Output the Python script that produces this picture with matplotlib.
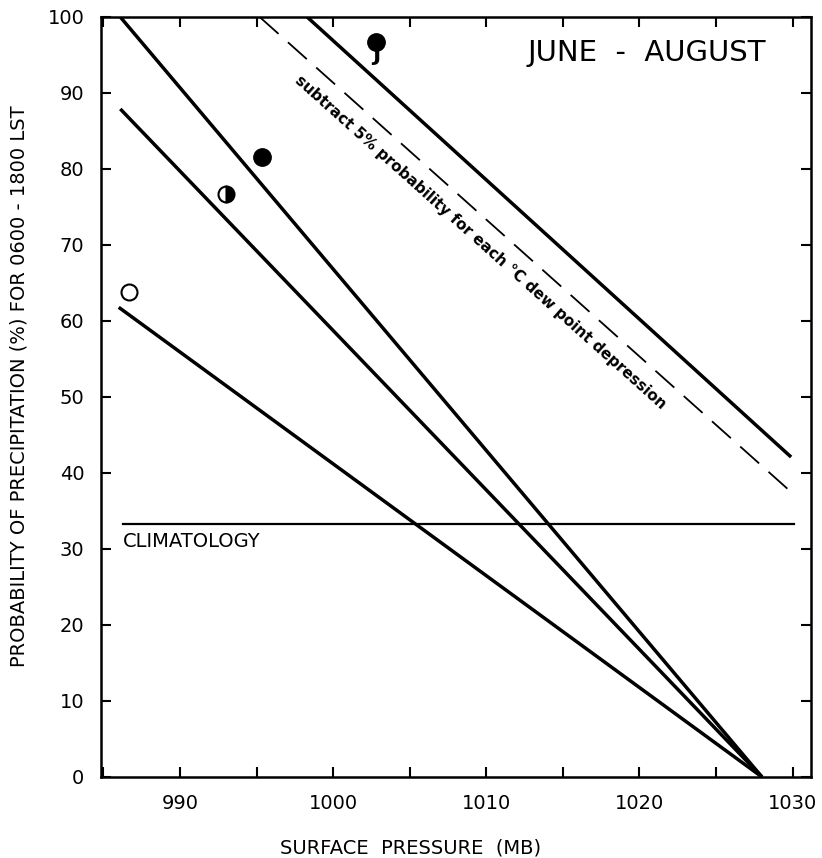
import matplotlib
matplotlib.use("Agg")
import matplotlib.pyplot as plt
from matplotlib.ticker import MultipleLocator

# ---- data ----
# regression lines: (pressure endpoints, probability endpoints)
line_open_p = [986.0, 1028.0]
line_open_v = [61.8, 0.0]
line_half_p = [986.1, 1028.0]
line_half_v = [87.9, 0.0]
line_full_p = [986.1, 1028.0]
line_full_v = [100.0, 0.0]
line_tstm_p = [998.3, 1029.9]
line_tstm_v = [100.0, 42.1]
line_dash_p = [995.2, 1029.9]
line_dash_v = [100.0, 37.5]
clim_p = [986.3, 1030.1]
clim_v = [33.3, 33.3]

# plotted symbols
pt_open = (986.7, 63.8)
pt_half = (993.0, 76.7)
pt_full = (995.35, 81.6)
pt_tstm = (1002.8, 96.7)

xticks_major = [990, 1000, 1010, 1020, 1030]
yticks = [0, 10, 20, 30, 40, 50, 60, 70, 80, 90, 100]

fig = plt.figure(figsize=(8.22, 8.58), dpi=100)
ax = fig.add_axes([101/822, 1-777/858, (811-101)/822, (777-17)/858])
ax.set_xlim(984.84, 1031.2)
ax.set_ylim(0, 100)

lw = 2.5
for p, v in [(line_open_p, line_open_v), (line_half_p, line_half_v),
             (line_full_p, line_full_v), (line_tstm_p, line_tstm_v)]:
    ax.plot(p, v, color="black", lw=lw, solid_capstyle="butt")
ax.plot(line_dash_p, line_dash_v, color="black", lw=1.3, dashes=(14, 7))
ax.plot(clim_p, clim_v, color="black", lw=1.6)

ms = 11.5
ax.plot(*pt_open, marker="o", ms=ms, mfc="white", mec="black", mew=1.5, clip_on=False)
ax.plot(*pt_half, marker="o", ms=ms, fillstyle="right", mfc="black",
        mfcalt="white", mec="black", mew=1.5)
ax.plot(*pt_full, marker="o", ms=ms + 1, mfc="black", mec="black")
ax.plot(*pt_tstm, marker="o", ms=ms + 1, mfc="black", mec="black")
ax.annotate("J", xy=pt_tstm, xytext=(0, -9), textcoords="offset points",
            ha="center", va="center", fontsize=16, fontweight="bold")

ax.text(986.3, 31.0, "CLIMATOLOGY", fontsize=14, ha="left", va="center")
ax.text(0.768, 0.952, "JUNE  -  AUGUST", transform=ax.transAxes, fontsize=21,
        ha="center", va="center")
ax.text(1009.6, 70.3, "subtract 5% probability for each \u00b0C dew point depression",
        rotation=-41.8, rotation_mode="anchor", ha="center", va="center",
        fontsize=11, fontweight="bold")

ax.xaxis.set_minor_locator(MultipleLocator(5))
ax.set_xticks(xticks_major)
ax.set_yticks(yticks)
ax.set_yticklabels([str(t) for t in yticks])
ax.tick_params(axis="both", which="both", direction="in", top=True, right=True,
               length=7, width=1.5, labelsize=14, pad=12)
for s in ax.spines.values():
    s.set_linewidth(1.8)

ax.set_xlabel("SURFACE  PRESSURE  (MB)", fontsize=14)
ax.xaxis.set_label_coords((411-101)/710, -(838-777)/760)
ax.set_ylabel("PROBABILITY OF PRECIPITATION (%) FOR 0600 - 1800 LST", fontsize=14)
ax.yaxis.set_label_coords(-(101-29)/710, (777-386)/760)

fig.savefig("out.png", dpi=100)
